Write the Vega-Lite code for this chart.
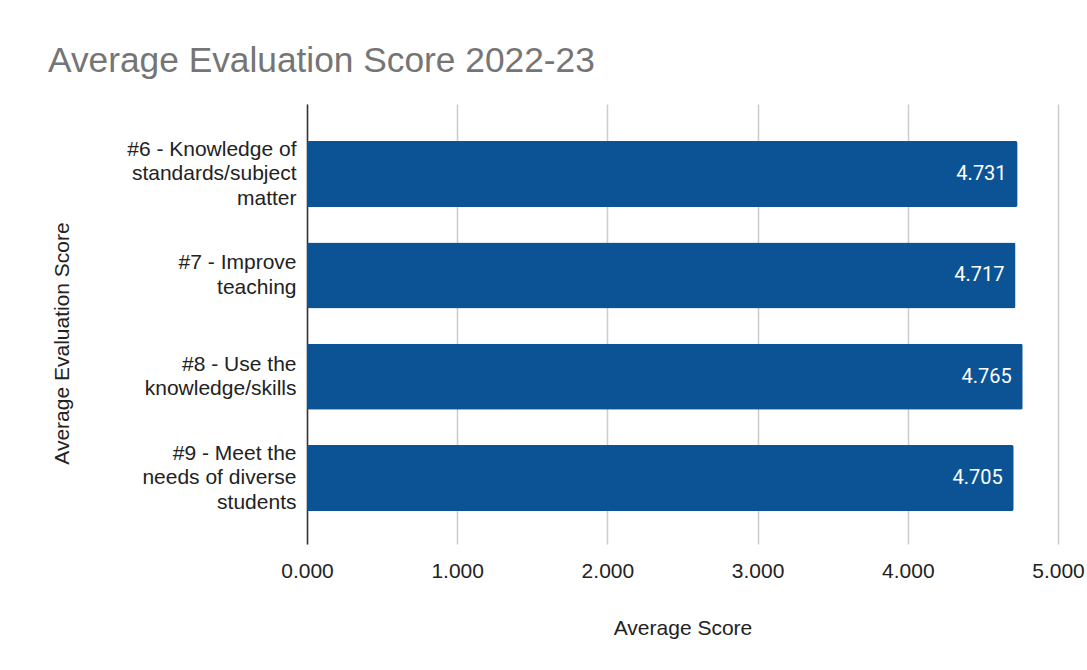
{
  "$schema": "https://vega.github.io/schema/vega-lite/v6.json",
  "width": 751,
  "height": 440,
  "autosize": {"type": "none"},
  "padding": {"left": 307, "top": 104, "right": 29, "bottom": 126},
  "background": "white",
  "config": {"view": {"stroke": null}, "font": "Arial"},
  "title": {
    "text": "Average Evaluation Score 2022-23",
    "anchor": "start",
    "frame": "group",
    "dx": -259,
    "offset": 29,
    "dy": 32,
    "baseline": "alphabetic",
    "font": "Arial",
    "fontSize": 35.3,
    "fontWeight": "normal",
    "color": "#757575"
  },
  "data": {
    "values": [
      {"item": "#6 - Knowledge of|standards/subject|matter", "score": 4.731},
      {"item": "#7 - Improve|teaching", "score": 4.717},
      {"item": "#8 - Use the|knowledge/skills", "score": 4.765},
      {"item": "#9 - Meet the|needs of diverse|students", "score": 4.705}
    ]
  },
  "encoding": {
    "y": {
      "field": "item",
      "type": "nominal",
      "sort": null,
      "scale": {"paddingInner": 0.3487, "paddingOuter": 0.3454, "align": 0.53},
      "axis": {
        "title": "Average Evaluation Score",
        "labelExpr": "split(datum.label, '|')",
        "labelFont": "Arial",
        "labelFontSize": 21,
        "labelLineHeight": 24.5,
        "labelBaseline": "middle",
        "labelOffset": {"condition": {"test": "length(split(datum.value, '|')) == 3", "value": -24.5}, "value": -12.25},
        "labelColor": "#222222",
        "labelPadding": 11,
        "labelLimit": 300,
        "ticks": false,
        "grid": false,
        "domain": true,
        "domainColor": "#333333",
        "domainWidth": 1.5,
        "titleFont": "Arial",
        "titleFontSize": 21,
        "titleFontWeight": "normal",
        "titleColor": "#222222",
        "titleAngle": -90,
        "titleBaseline": "middle",
        "titleX": -245,
        "titleY": 239
      }
    },
    "x": {
      "field": "score",
      "type": "quantitative",
      "scale": {"domain": [0, 5], "nice": false},
      "axis": {
        "title": "Average Score",
        "values": [0, 1, 2, 3, 4, 5],
        "format": ".3f",
        "labelFont": "Arial",
        "labelFontSize": 21,
        "labelColor": "#222222",
        "labelPadding": 16,
        "labelFlush": false,
        "ticks": false,
        "domain": false,
        "grid": true,
        "gridColor": "#cccccc",
        "gridWidth": 1.5,
        "titleFont": "Arial",
        "titleFontSize": 21,
        "titleFontWeight": "normal",
        "titleColor": "#222222",
        "titleBaseline": "middle",
        "titleY": 84
      }
    }
  },
  "layer": [
    {
      "mark": {"type": "bar", "color": "#0b5394", "cornerRadius": 2}
    },
    {
      "mark": {"type": "text", "align": "right", "dx": -11, "color": "white", "fontSize": 20, "font": "Roboto", "baseline": "middle"},
      "encoding": {"text": {"field": "score", "type": "quantitative", "format": ".3f"}}
    }
  ]
}
